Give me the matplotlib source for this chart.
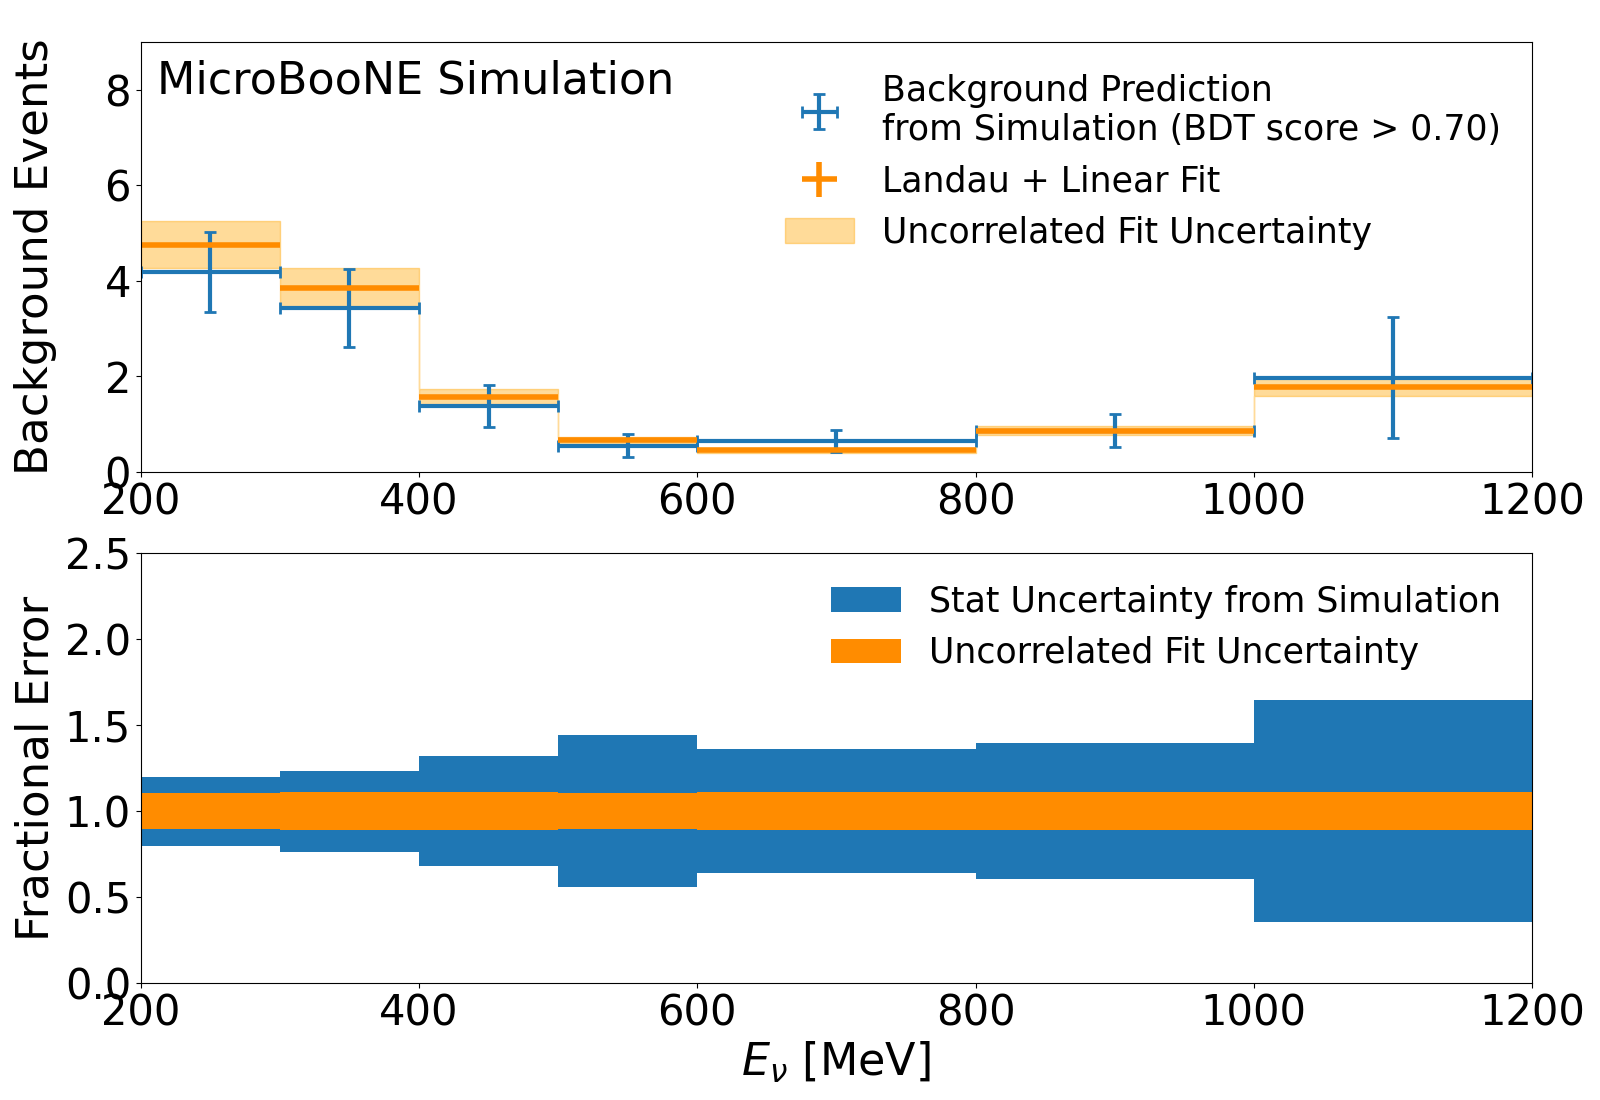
import matplotlib
matplotlib.use('Agg')
import matplotlib.pyplot as plt
import numpy as np

# Binning (MeV)
bin_edges = np.array([200, 300, 400, 500, 600, 800, 1000, 1200])

# Background prediction from simulation (BDT score > 0.70)
sim_values = np.array([4.18, 3.43, 1.38, 0.54, 0.64, 0.86, 1.97])
sim_errors = np.array([0.84, 0.81, 0.44, 0.24, 0.23, 0.34, 1.27])

# Landau + linear fit
fit_values = np.array([4.76, 3.85, 1.57, 0.66, 0.45, 0.86, 1.78])
fit_errors = np.array([0.49, 0.42, 0.17, 0.07, 0.05, 0.095, 0.20])

centers = 0.5 * (bin_edges[1:] + bin_edges[:-1])
half_w = 0.5 * (bin_edges[1:] - bin_edges[:-1])

stat_frac = sim_errors / sim_values
fit_frac = fit_errors / fit_values

plt.rcParams['font.size'] = 30

fig = plt.figure(figsize=(16, 11), dpi=100)
ax1 = fig.add_axes([0.088, 0.5712, 0.8695, 0.3903])
ax2 = fig.add_axes([0.088, 0.1064, 0.8695, 0.3906])

# --- top panel ---
lo = np.append(fit_values - fit_errors, (fit_values - fit_errors)[-1])
hi = np.append(fit_values + fit_errors, (fit_values + fit_errors)[-1])
ax1.fill_between(bin_edges, lo, hi, step='post', color='orange', alpha=0.4,
                 linewidth=1, label='Uncorrelated Fit Uncertainty')
ax1.errorbar(centers, sim_values, xerr=half_w, yerr=sim_errors, fmt='none',
             ecolor='tab:blue', elinewidth=3, capsize=4, capthick=2,
             label='Background Prediction\nfrom Simulation (BDT score > 0.70)')
ax1.errorbar(centers, fit_values, xerr=half_w, yerr=np.zeros(len(fit_values)),
             fmt='none', ecolor='darkorange', elinewidth=4,
             label='Landau + Linear Fit')

ax1.set_xlim(200, 1200)
ax1.set_ylim(0, 9)
ax1.set_yticks([0, 2, 4, 6, 8])
ax1.set_ylabel('Background Events', fontsize=32.5)
ax1.yaxis.set_label_coords(-0.060, 0.5)
ax1.text(0.012, 0.96, 'MicroBooNE Simulation', transform=ax1.transAxes,
         fontsize=32, va='top', ha='left')

h, l = ax1.get_legend_handles_labels()
order = [1, 2, 0]
ax1.legend([h[i] for i in order], [l[i] for i in order], loc='upper right',
           fontsize=25, frameon=False)

# --- bottom panel ---
s_lo = np.append(1 - stat_frac, (1 - stat_frac)[-1])
s_hi = np.append(1 + stat_frac, (1 + stat_frac)[-1])
f_lo = np.append(1 - fit_frac, (1 - fit_frac)[-1])
f_hi = np.append(1 + fit_frac, (1 + fit_frac)[-1])
ax2.fill_between(bin_edges, s_lo, s_hi, step='post', color='tab:blue',
                 linewidth=0, label='Stat Uncertainty from Simulation')
ax2.fill_between(bin_edges, f_lo, f_hi, step='post', color='darkorange',
                 linewidth=0, label='Uncorrelated Fit Uncertainty')

ax2.set_xlim(200, 1200)
ax2.set_ylim(0, 2.5)
ax2.set_yticks([0.0, 0.5, 1.0, 1.5, 2.0, 2.5])
ax2.set_ylabel('Fractional Error', fontsize=32.5)
ax2.yaxis.set_label_coords(-0.060, 0.5)
ax2.set_xlabel(r'$E_\nu$ [MeV]', fontsize=32)
ax2.legend(loc='upper right', fontsize=25, frameon=False)

fig.savefig('out.png', dpi=100)
